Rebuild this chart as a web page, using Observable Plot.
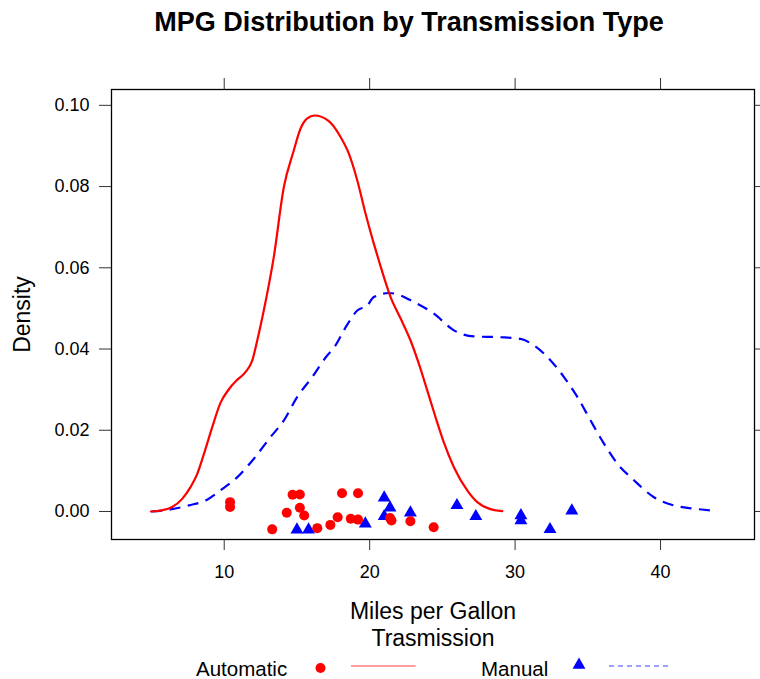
<!DOCTYPE html>
<html>
<head>
<meta charset="utf-8">
<script src="https://cdn.jsdelivr.net/npm/d3@7"></script>
<script src="https://cdn.jsdelivr.net/npm/@observablehq/plot@0.6"></script>
<style>
  body { margin: 0; background: white; }
  #wrap { position: relative; width: 760px; height: 679px; background: white; font-family: "Liberation Sans", Arial, sans-serif; }
  #title { position: absolute; top: 9px; left: 29px; width: 760px; text-align: center; font-size: 27px; line-height: 27px; font-weight: bold; color: black; }
  #chart { position: absolute; top: 50px; left: 0; }
  #legend { position: absolute; top: 640px; left: 0; }
</style>
</head>
<body>
<div id="wrap">
  <div id="title">MPG Distribution by Transmission Type</div>
  <div id="chart"></div>
  <svg id="legend" width="760" height="39"></svg>
</div>
<script>
// ---- data ----
const seriesNames = ["Automatic", "Manual"];
const autoMpg = [10.4, 10.4, 13.3, 14.3, 14.7, 15.2, 15.2, 15.5, 16.4, 17.3, 17.8, 18.1, 18.7, 19.2, 19.2, 21.4, 21.5, 22.8, 24.4];
const autoJitter = [0.0023, 0.0011, -0.0044, -0.0003, 0.0041, 0.0042, 0.0009, -0.0010, -0.0041, -0.0033, -0.0014, 0.0045, -0.0018, 0.0045, -0.0020, -0.0016, -0.0022, -0.0024, -0.0039];
const manualMpg = [15.0, 15.8, 19.7, 21.0, 21.0, 21.4, 22.8, 26.0, 27.3, 30.4, 30.4, 32.4, 33.9];
const manualJitter = [-0.0045, -0.0045, -0.0030, 0.0034, -0.0012, 0.0009, -0.0003, 0.0015, -0.0012, -0.0010, -0.0022, -0.0044, 0.0002];

const autoDensX = [4.96, 5.74, 6.42, 7.11, 7.68, 8.14, 8.60, 9.17, 9.75, 10.32, 10.89, 11.46, 11.93, 12.27, 12.72, 13.41, 14.10, 14.75, 15.25, 15.71, 16.21, 17.19, 18.00, 18.57, 19.15, 19.72, 20.29, 20.63, 21.44, 22.13, 22.81, 23.38, 23.96, 24.53, 25.10, 25.79, 26.71, 27.40, 28.20, 29.12];
const autoDensY = [0.0000, 0.0003, 0.0011, 0.0031, 0.0060, 0.0092, 0.0141, 0.0207, 0.0268, 0.0301, 0.0324, 0.0343, 0.0372, 0.0421, 0.0495, 0.0627, 0.0799, 0.0885, 0.0943, 0.0968, 0.0975, 0.0961, 0.0922, 0.0881, 0.0815, 0.0733, 0.0659, 0.0618, 0.0528, 0.0475, 0.0421, 0.0364, 0.0298, 0.0232, 0.0170, 0.0109, 0.0052, 0.0023, 0.0007, 0.0001];

const manualDensX = [4.98, 6.31, 7.57, 8.83, 9.75, 10.89, 12.04, 13.18, 14.10, 15.02, 16.05, 17.08, 17.54, 18.46, 19.15, 19.83, 20.29, 21.32, 22.13, 22.59, 24.42, 25.79, 27.17, 29.00, 30.38, 31.29, 32.44, 33.36, 34.28, 35.19, 36.11, 37.03, 38.17, 39.55, 40.92, 42.30, 43.91];
const manualDensY = [0.0000, 0.0005, 0.0015, 0.0029, 0.0052, 0.0084, 0.0130, 0.0183, 0.0224, 0.0282, 0.0331, 0.0384, 0.0403, 0.0460, 0.0495, 0.0507, 0.0528, 0.0538, 0.0532, 0.0524, 0.0487, 0.0446, 0.0431, 0.0429, 0.0425, 0.0409, 0.0372, 0.0331, 0.0282, 0.0224, 0.0167, 0.0118, 0.0077, 0.0035, 0.0015, 0.0007, 0.0001];

const xTicks = [10, 20, 30, 40];
const yTicks = [0.00, 0.02, 0.04, 0.06, 0.08, 0.10];
const xLabel = "Miles per Gallon\nTrasmission";
const yLabel = "Density";

// ---- tables ----
const autoPts = autoMpg.map((x, i) => ({x, y: autoJitter[i]}));
const manualPts = manualMpg.map((x, i) => ({x, y: manualJitter[i]}));
const autoCurve = autoDensX.map((x, i) => ({x, y: autoDensY[i]}));
const manualCurve = manualDensX.map((x, i) => ({x, y: manualDensY[i]}));

const RED = "#FF0000", BLUE = "#0000FF";
const fmt = d3.format(".2f");

const chart = Plot.plot({
  width: 760,
  height: 590,
  marginTop: 39,
  marginLeft: 111,
  marginRight: 6,
  marginBottom: 101,
  x: {domain: [2.25, 46.46]},
  y: {domain: [-0.0069, 0.1039]},
  style: {fontFamily: "'Liberation Sans', Arial, sans-serif", fontSize: "18px", color: "black", background: "white", overflow: "visible"},
  marks: [
    Plot.axisX(xTicks, {anchor: "bottom", tickSize: 11, tickPadding: 15, label: null, stroke: "#333"}),
    Plot.axisX(xTicks, {anchor: "top", tickSize: 12, tickFormat: () => "", label: null, stroke: "#333"}),
    Plot.axisY(yTicks, {anchor: "left", tickSize: 12, tickPadding: 10, tickFormat: fmt, label: null, stroke: "#333"}),
    Plot.axisY(yTicks, {anchor: "right", tickSize: 12, tickFormat: () => "", label: null, stroke: "#333"}),
    Plot.frame({stroke: "black", strokeWidth: 1.3}),
    Plot.line(manualCurve, {x: "x", y: "y", stroke: BLUE, strokeWidth: 2.2, strokeDasharray: "11,7.5", strokeLinecap: "butt", curve: "monotone-x"}),
    Plot.line(autoCurve, {x: "x", y: "y", stroke: RED, strokeWidth: 2.2, curve: "monotone-x"}),
    Plot.dot(manualPts, {x: "x", y: "y", symbol: "triangle", r: 4.8, fill: BLUE, stroke: null}),
    Plot.dot(autoPts, {x: "x", y: "y", symbol: "circle", r: 5, fill: RED, stroke: null}),
    Plot.text([yLabel], {frameAnchor: "left", dx: -89, rotate: -90, fontSize: 23, textAnchor: "middle", lineAnchor: "middle"}),
    Plot.text([xLabel], {frameAnchor: "bottom", dy: 84.5, fontSize: 23, lineHeight: 1.17, textAnchor: "middle", lineAnchor: "middle"})
  ]
});
document.getElementById("chart").appendChild(chart);

// ---- legend ----
const lg = d3.select("#legend");
const ff = "'Liberation Sans', Arial, sans-serif";
lg.append("text").attr("x", 196).attr("y", 36).attr("font-size", 20.5).attr("font-family", ff).text(seriesNames[0]);
lg.append("circle").attr("cx", 320.5).attr("cy", 28).attr("r", 5).attr("fill", RED);
lg.append("line").attr("x1", 351).attr("x2", 415.6).attr("y1", 26).attr("y2", 26).attr("stroke", RED).attr("stroke-width", 1.2).attr("stroke-opacity", 0.75);
lg.append("text").attr("x", 481).attr("y", 36).attr("font-size", 20.5).attr("font-family", ff).text(seriesNames[1]);
lg.append("path").attr("transform", "translate(579,25)").attr("d", d3.symbol(d3.symbolTriangle, Math.PI * 4.8 * 4.8)()).attr("fill", BLUE);
lg.append("line").attr("x1", 609).attr("x2", 671).attr("y1", 26).attr("y2", 26).attr("stroke", BLUE).attr("stroke-width", 1.2).attr("stroke-opacity", 0.75).attr("stroke-dasharray", "5,4");
</script>
</body>
</html>
